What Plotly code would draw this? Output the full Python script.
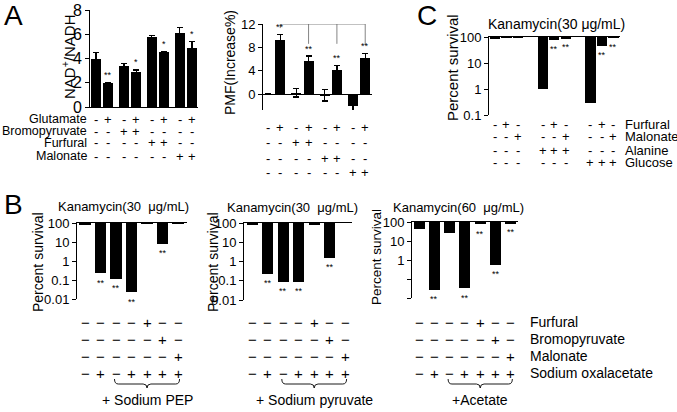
import plotly.graph_objects as go
import numpy as np

W, H = 677, 412
FONT = "Liberation Sans, Arial"

# ---------------- data ----------------
# Panel A (left): NAD+/NADH
a1_vals = [4.0, 1.95, 3.4, 2.9, 5.75, 4.5, 6.1, 4.85]
a1_err = [0.5, 0.1, 0.2, 0.15, 0.15, 0.1, 0.45, 0.55]
a1_sig = ["", "**", "", "*", "", "*", "", "*"]
# Panel A (right): PMF (Increase %)
a2_vals = [0.0, 9.3, 0.2, 5.6, -0.2, 4.2, -2.1, 6.1]
a2_err = [0.0, 0.9, 0.7, 0.9, 1.0, 0.7, 0.9, 0.8]
a2_sig = ["", "**", "", "**", "", "**", "", "**"]
a_rows = ["Glutamate", "Bromopyruvate", "Furfural", "Malonate"]
a_table = [
    ["-", "+", "-", "+", "-", "+", "-", "+"],
    ["-", "-", "+", "+", "-", "-", "-", "-"],
    ["-", "-", "-", "-", "+", "+", "-", "-"],
    ["-", "-", "-", "-", "-", "-", "+", "+"],
]
# Panel C: percent survival, kanamycin 30
c_vals = [82, 95, 92, 1.0, 74, 90, 0.3, 46, 93]
c_sig = ["", "", "", "", "**", "**", "", "**", "**"]
c_rows = ["Furfural", "Malonate", "Alanine", "Glucose"]
c_table = [
    ["-", "+", "-", "-", "+", "-", "-", "+", "-"],
    ["-", "-", "+", "-", "-", "+", "-", "-", "+"],
    ["-", "-", "-", "+", "+", "+", "-", "-", "-"],
    ["-", "-", "-", "-", "-", "-", "+", "+", "+"],
]
# Panel B: percent survival
b1_vals = [85, 0.22, 0.11, 0.022, 90, 8, 97]
b1_sig = ["", "**", "**", "**", "", "**", ""]
b2_vals = [85, 0.23, 0.09, 0.09, 80, 1.6, 105]
b2_sig = ["", "**", "**", "**", "", "**", ""]
b3_vals = [45, 0.026, 26, 0.032, 75, 0.55, 88]
b3_sig = ["", "**", "", "**", "**", "**", "**"]
b_rows = ["Furfural", "Bromopyruvate", "Malonate", "Sodium oxalacetate"]
b_table = [
    ["−", "−", "−", "−", "+", "−", "−"],
    ["−", "−", "−", "−", "−", "+", "−"],
    ["−", "−", "−", "−", "−", "−", "+"],
    ["−", "+", "−", "+", "+", "+", "+"],
]
b_titles = ["Kanamycin(30  μg/mL)", "Kanamycin(30  μg/mL)", "Kanamycin(60  μg/mL)"]
b_groups = ["+ Sodium PEP", "+ Sodium pyruvate", "+Acetate"]
c_title = "Kanamycin(30 μg/mL)"


def px(x):
    return x / W


def py(y):
    return 1 - y / H


# positions (layout)
pair_pos = [p * 2.3 + i for p in range(4) for i in range(2)]
c_pos = [g * 4.15 + i for g in range(3) for i in range(3)]
b_pos = list(range(7))

fig = go.Figure()
ann = []
shapes = []


def add_bar(x, y, xa, ya, width, err=None, base=None):
    kw = dict(x=x, y=y, xaxis=xa, yaxis=ya, marker=dict(color="black", line=dict(width=0)),
              width=width, showlegend=False, hoverinfo="skip")
    if err is not None:
        kw["error_y"] = dict(type="data", array=err, color="black", thickness=1.2, width=3)
    if base is not None:
        kw["base"] = base
    fig.add_trace(go.Bar(**kw))


# A1
add_bar(pair_pos, a1_vals, "x", "y", 0.78, a1_err)
# A2
add_bar(pair_pos, a2_vals, "x2", "y2", 0.8, a2_err)
# C (bars hang from 100)
add_bar(c_pos, list(np.array(c_vals) - 100.0), "x3", "y3", 0.88, base=[100] * len(c_vals))
# B
for k, vals in enumerate([b1_vals, b2_vals, b3_vals]):
    add_bar(b_pos, list(np.array(vals) - 100.0), "x%d" % (4 + k), "y%d" % (4 + k), 0.72,
            base=[100] * len(vals))

axis_common = dict(showgrid=False, zeroline=False, linecolor="black", linewidth=1, automargin=False,
                   ticks="outside", tickcolor="black", ticklen=4, tickwidth=1,
                   tickfont=dict(family=FONT, size=13, color="black"))
xhidden = dict(showgrid=False, zeroline=False, showticklabels=False, ticks="", automargin=False)

layout = dict(
    template="none",
    width=W, height=H, margin=dict(l=0, r=0, t=0, b=0, autoexpand=False),
    paper_bgcolor="white", plot_bgcolor="rgba(0,0,0,0)", bargap=0,
    font=dict(family=FONT, color="black"),
)
# A1
layout["xaxis"] = dict(xhidden, domain=[px(90), px(198)], range=[-0.5, 8.4], showline=True,
                       linecolor="black", anchor="y")
layout["yaxis"] = dict(axis_common, domain=[py(107), py(10)], range=[0, 8], tickvals=[0, 2, 4, 6, 8],
                       showline=True, anchor="x", tickfont=dict(family=FONT, size=16, color="black"))
# A2
layout["xaxis2"] = dict(xhidden, domain=[px(263), px(372)], range=[-0.4, 8.45], showline=False, anchor="y2")
layout["yaxis2"] = dict(axis_common, domain=[py(110), py(24)], range=[-2.74, 12], tickvals=[0, 4, 8, 12],
                        showline=True, anchor="x2", zeroline=True, zerolinecolor="black", zerolinewidth=1)
# C
layout["xaxis3"] = dict(xhidden, domain=[px(489), px(620)], range=[-0.52, 10.87], showline=True,
                        linecolor="black", side="top", anchor="y3")
layout["yaxis3"] = dict(axis_common, domain=[py(115), py(37)], type="log", range=[-1, 2],
                        tickvals=[0.1, 1, 10, 100], ticktext=["0.1", "1", "10", "100"],
                        showline=True, anchor="x3")
# B
b_dom_x = [(77, 187), (244, 352), (412, 518)]
b_dom_y = [(299, 223), (300, 223), (298, 222)]
b_xr = [(-0.52, 6.58), (-0.55, 6.45), (-0.46, 6.47)]
b_tickvals = [[0.01, 0.1, 1, 10, 100], [0.01, 0.1, 1, 10, 100], [1, 10, 100]]
b_ticktext = [["0.01", "0.1", "1", "10", "100"], ["0.01", "0.1", "1", "10", "100"], ["1", "10", "100"]]
for k in range(3):
    n = 4 + k
    layout["xaxis%d" % n] = dict(xhidden, domain=[px(b_dom_x[k][0]), px(b_dom_x[k][1])], range=list(b_xr[k]),
                                 showline=True, linecolor="black", side="top", anchor="y%d" % n)
    ya = dict(axis_common, domain=[py(b_dom_y[k][0]), py(b_dom_y[k][1])], type="log",
              range=[-2, 2], tickvals=b_tickvals[k], ticktext=b_ticktext[k],
              showline=True, anchor="x%d" % n)
    if k == 2:
        ya["minor"] = dict(tickvals=[0.01, 0.1], ticks="outside", ticklen=4, tickcolor="black", showgrid=False)
    layout["yaxis%d" % n] = ya


def text(x, y, t, size, xref="paper", yref="paper", xanchor="center", yanchor="middle", angle=0, color="black"):
    ann.append(dict(x=x, y=y, text=t, xref=xref, yref=yref, showarrow=False, xanchor=xanchor,
                    yanchor=yanchor, textangle=angle, font=dict(family=FONT, size=size, color=color)))


# panel letters
text(px(13), py(16), "A", 28)
text(px(427), py(16), "C", 28)
text(px(13), py(204), "B", 28)

# axis titles
text(px(68), py(57), "NAD<sup>+</sup>/NADH", 15, angle=-90)
text(px(230), py(63), "PMF(Increase%)", 14, angle=-90)
text(px(452), py(67), "Percent survival", 15, angle=-90)
text(px(38), py(262), "Percent survival", 14, angle=-90)
text(px(213), py(262), "Percent survival", 14, angle=-90)
text(px(376), py(257), "Percent survival", 13.5, angle=-90)

# chart titles
text(px(556), py(24), c_title, 14)
for k, (cx, cy) in enumerate([(123, 206), (292, 207), (458, 207)]):
    text(px(cx), py(cy), b_titles[k], 13)

# A tables
a1_rows_y = [119, 131, 143, 156]
a2_rows_y = [128, 143, 158, 173]
for r, row in enumerate(a_table):
    text(px(89), py(a1_rows_y[r]), a_rows[r], 12.5, xanchor="right")
    for j, s in enumerate(row):
        text(pair_pos[j], py(a1_rows_y[r]), s, 13, xref="x")
        text(pair_pos[j], py(a2_rows_y[r]), s, 13, xref="x2")
# C table
c_rows_y = [125, 137, 150, 163]
for r, row in enumerate(c_table):
    text(px(623), py(c_rows_y[r]), c_rows[r], 13, xanchor="left")
    for j, s in enumerate(row):
        text(c_pos[j], py(c_rows_y[r]), s, 13, xref="x3")
# B tables
b_rows_y = [322, 339, 356, 373]
for r, row in enumerate(b_table):
    text(px(528), py(b_rows_y[r]), b_rows[r], 14, xanchor="left")
    for k in range(3):
        for j, s in enumerate(row):
            text(b_pos[j], py(b_rows_y[r]), s, 15, xref="x%d" % (4 + k))

# braces + group labels
for k in range(3):
    xr = "x%d" % (4 + k)
    x0, x1 = b_pos[2] - 0.1, b_pos[6] + 0.1
    xm = (x0 + x1) / 2
    yt, yl, yb = py(379), py(384), py(388)
    d = 0.25
    path = (f"M {x0},{yt} Q {x0},{yl} {x0 + d},{yl} L {xm - d},{yl} Q {xm},{yl} {xm},{yb} "
            f"Q {xm},{yl} {xm + d},{yl} L {x1 - d},{yl} Q {x1},{yl} {x1},{yt}")
    shapes.append(dict(type="path", path=path, xref=xr, yref="paper", line=dict(color="black", width=0.9)))
    text(xm, py(400), b_groups[k], 14, xref=xr)

# significance marks
for j, s in enumerate(a1_sig):
    if s:
        text(pair_pos[j], a1_vals[j] + a1_err[j] + 0.05, s, 9, xref="x", yref="y", yanchor="bottom")
for j, s in enumerate(a2_sig):
    if s:
        text(pair_pos[j], a2_vals[j] + a2_err[j] + 0.1, s, 9, xref="x2", yref="y2", yanchor="bottom")
for j, s in enumerate(c_sig):
    if s:
        text(c_pos[j], np.log10(c_vals[j]) - 0.08, s, 9, xref="x3", yref="y3", yanchor="top")
for k, (vals, sig) in enumerate([(b1_vals, b1_sig), (b2_vals, b2_sig), (b3_vals, b3_sig)]):
    for j, s in enumerate(sig):
        if s:
            text(b_pos[j], np.log10(vals[j]) - 0.12, s, 9, xref="x%d" % (4 + k), yref="y%d" % (4 + k),
                 yanchor="top")

# A2 comparison brackets
br_top = 12.0
br_idx = [1, 3, 5, 7]
br_end = [11.3, 8.6, 8.6, 8.4]
lc = dict(color="#666", width=0.8)
shapes.append(dict(type="line", xref="x2", yref="y2", x0=pair_pos[1], x1=pair_pos[7], y0=br_top, y1=br_top, line=lc))
for i, e in zip(br_idx, br_end):
    shapes.append(dict(type="line", xref="x2", yref="y2", x0=pair_pos[i], x1=pair_pos[i], y0=br_top, y1=e, line=lc))
for a, b in zip(br_idx[:-1], br_idx[1:]):
    text((pair_pos[a] + pair_pos[b]) / 2, br_top + 0.2, "*", 9, xref="x2", yref="y2", yanchor="bottom")

layout["annotations"] = ann
layout["shapes"] = shapes
fig.update_layout(**layout)
fig.write_html("out.html", config={"displayModeBar": False},
               post_script="document.body.style.margin='0';document.body.style.padding='0';")
